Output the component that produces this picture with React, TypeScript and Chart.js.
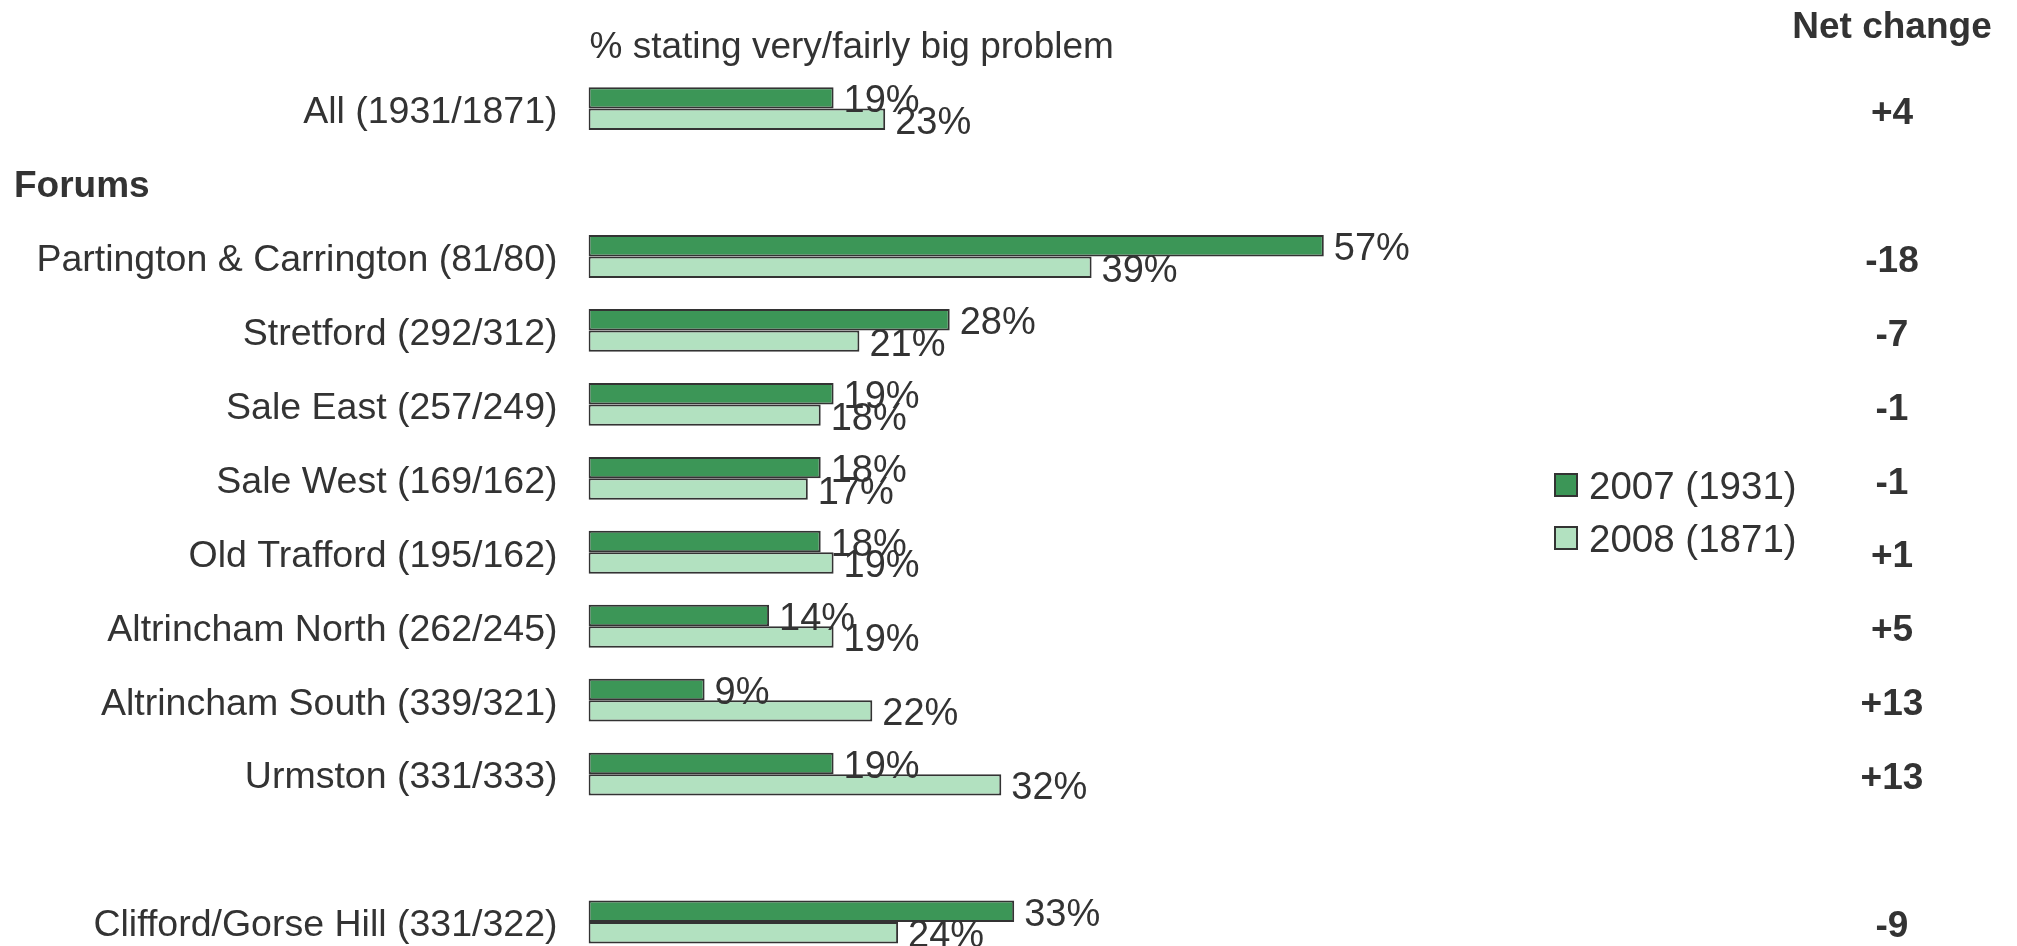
import React, { useEffect, useRef } from "react";
import { Chart, registerables } from "chart.js";

Chart.register(...registerables);

// ---- data ----
const categories = [
  "All (1931/1871)",
  "",
  "Partington & Carrington (81/80)",
  "Stretford (292/312)",
  "Sale East (257/249)",
  "Sale West (169/162)",
  "Old Trafford (195/162)",
  "Altrincham North (262/245)",
  "Altrincham South (339/321)",
  "Urmston (331/333)",
  "",
  "Clifford/Gorse Hill (331/322)",
];
const values2007: (number | null)[] = [19, null, 57, 28, 19, 18, 18, 14, 9, 19, null, 33];
const values2008: (number | null)[] = [23, null, 39, 21, 18, 17, 19, 19, 22, 32, null, 24];
const netChange = ["+4", "", "-18", "-7", "-1", "-1", "+1", "+5", "+13", "+13", "", "-9"];
const seriesNames = ["2007 (1931)", "2008 (1871)"];
const sectionHeadings = ["", "Forums", "", "", "", "", "", "", "", "", "", ""];
const chartTitle = "% stating very/fairly big problem";
const netHeader = "Net change";

// ---- styles ----
const DARK = "#3c9657";
const LIGHT = "#b2e1c0";
const BORDER = "#333333";
const TEXT = "#333333";
const FAMILY = "'Liberation Sans', Arial, Helvetica, sans-serif";
const FS = 37.5;

const overlayPlugin = {
  id: "overlay",
  afterDatasetsDraw(chart: any) {
    const ctx = chart.ctx;
    ctx.save();
    ctx.fillStyle = TEXT;
    ctx.font = `38px ${FAMILY}`;
    ctx.textAlign = "left";
    ctx.textBaseline = "middle";
    chart.data.datasets.forEach((ds: any, di: number) => {
      const meta = chart.getDatasetMeta(di);
      meta.data.forEach((bar: any, i: number) => {
        const v = ds.data[i];
        if (v === null || v === undefined) return;
        ctx.fillText(`${v}%`, bar.x + 10, bar.y + 4);
      });
    });
    ctx.restore();
  },
  afterDraw(chart: any) {
    const ctx = chart.ctx;
    const y = chart.scales.y;
    const x = chart.scales.x;
    ctx.save();
    ctx.fillStyle = TEXT;
    ctx.textBaseline = "middle";

    // title above the bars
    ctx.font = `37px ${FAMILY}`;
    ctx.textAlign = "left";
    ctx.fillText(chartTitle, x.getPixelForValue(0) + 1, 40);

    // section headings (e.g. "Forums")
    ctx.font = `bold 37px ${FAMILY}`;
    sectionHeadings.forEach((t, i) => {
      if (!t) return;
      ctx.fillText(t, 6, y.getPixelForValue(i) + 4);
    });

    // net change column
    const netX = 1884;
    ctx.textAlign = "center";
    ctx.font = `bold 37px ${FAMILY}`;
    ctx.fillText(netHeader, netX, 20);
    netChange.forEach((t, i) => {
      if (!t) return;
      ctx.fillText(t, netX, y.getPixelForValue(i) + 5);
    });

    // legend
    const colors = [DARK, LIGHT];
    ctx.textAlign = "left";
    ctx.font = `38.5px ${FAMILY}`;
    seriesNames.forEach((name, i) => {
      const cy = 477 + i * 53;
      ctx.fillStyle = colors[i];
      ctx.fillRect(1547, cy - 11, 22, 22);
      ctx.strokeStyle = BORDER;
      ctx.lineWidth = 2;
      ctx.strokeRect(1547, cy - 11, 22, 22);
      ctx.fillStyle = TEXT;
      ctx.fillText(name, 1581, cy + 3);
    });
    ctx.restore();
  },
};

export default function App() {
  const ref = useRef<HTMLCanvasElement | null>(null);

  useEffect(() => {
    if (!ref.current) return;
    const chart = new Chart(ref.current, {
      type: "bar",
      data: {
        labels: categories,
        datasets: [
          {
            label: seriesNames[0],
            data: values2007,
            backgroundColor: DARK,
            borderColor: BORDER,
            borderWidth: 2,
            borderSkipped: false,
            categoryPercentage: 0.58,
            barPercentage: 1,
          },
          {
            label: seriesNames[1],
            data: values2008,
            backgroundColor: LIGHT,
            borderColor: BORDER,
            borderWidth: 2,
            borderSkipped: false,
            categoryPercentage: 0.58,
            barPercentage: 1,
          },
        ],
      },
      options: {
        indexAxis: "y",
        responsive: false,
        maintainAspectRatio: false,
        animation: false,
        devicePixelRatio: 1,
        layout: { padding: { top: 63.6, bottom: 9, left: 0, right: 130.5 } },
        plugins: {
          legend: { display: false },
          tooltip: { enabled: false },
          title: { display: false },
        },
        scales: {
          x: {
            display: false,
            min: 0,
            max: 100,
          },
          y: {
            grid: { display: false, drawTicks: false },
            border: { display: false },
            ticks: {
              color: TEXT,
              font: { family: FAMILY, size: FS },
              padding: 31,
              labelOffset: 4,
              autoSkip: false,
            },
            afterFit: (scale: any) => {
              scale.width = 580.5;
              scale.paddingTop = 0;
              scale.paddingBottom = 0;
            },
          },
        },
      },
      plugins: [overlayPlugin],
    });
    return () => chart.destroy();
  }, []);

  return (
    <div
      style={{
        position: "fixed",
        top: 8,
        left: 8,
        width: 2001,
        height: 938,
        overflow: "hidden",
      }}
    >
      <canvas
        ref={ref}
        width={2001}
        height={960}
        style={{ display: "block", width: 2001, height: 960 }}
      />
    </div>
  );
}
